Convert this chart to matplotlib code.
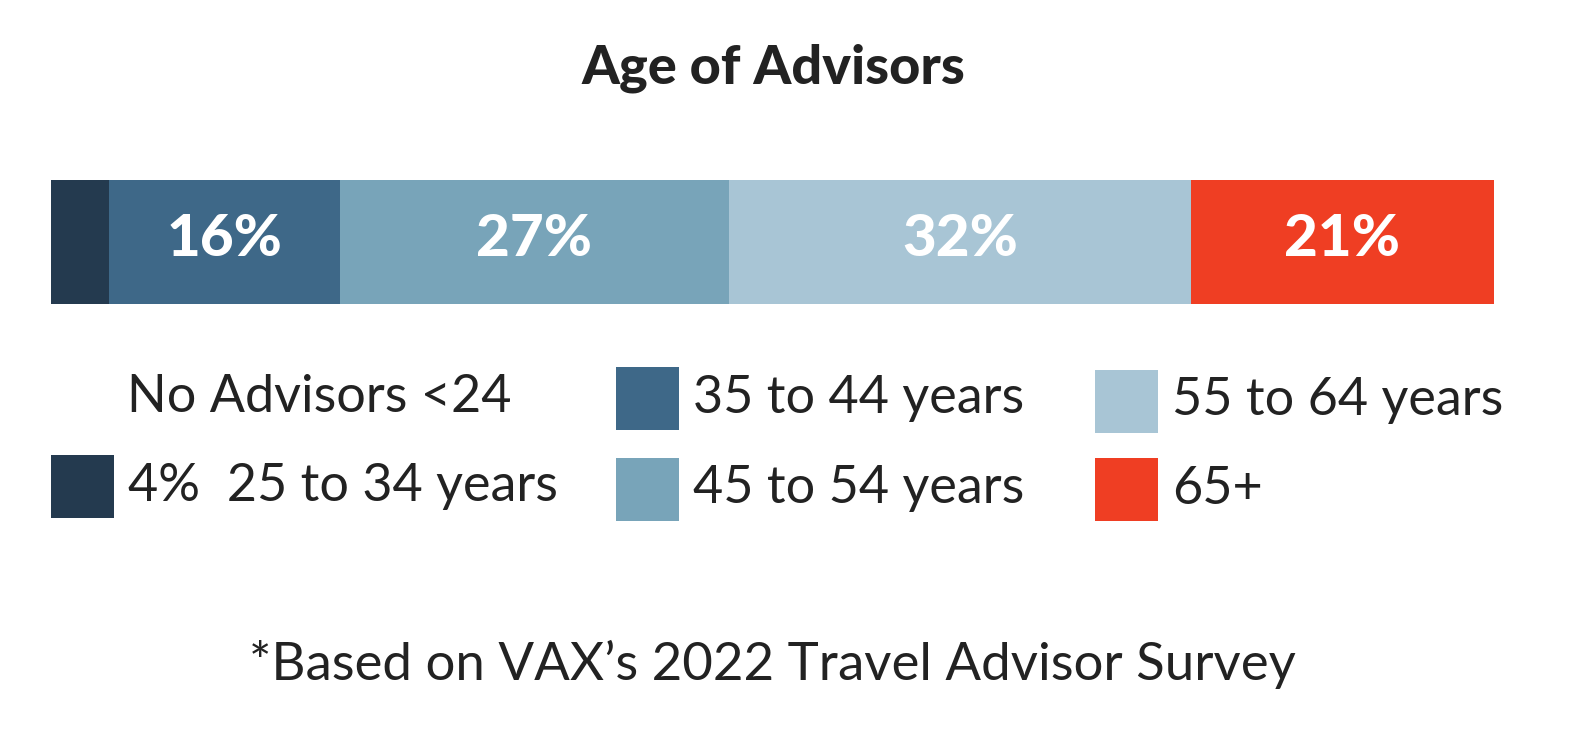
import numpy as np
import matplotlib
matplotlib.use("Agg")
from matplotlib import pyplot as plt
from matplotlib.patches import Rectangle

plt.rcParams['font.family'] = ['Lato', 'DejaVu Sans']

# Dados
faixas = ["25 to 34 years", "35 to 44 years", "45 to 54 years", "55 to 64 years", "65+"]
valores = [4, 16, 27, 32, 21]
cores = ["#243A4F", "#3E6888", "#78A4B9", "#A8C5D5", "#EF3E23"]
titulo = "Age of Advisors"
nota = "*Based on VAX\u2019s 2022 Travel Advisor Survey"

W, H = 1570, 744
fig = plt.figure(figsize=(W / 100, H / 100), dpi=100)

# Barra empilhada (posição em pixels -> fração da figura)
x0, x1, y0, y1 = 51, 1494, 180, 304
ax = fig.add_axes([x0 / W, 1 - y1 / H, (x1 - x0) / W, (y1 - y0) / H])
esquerda = np.concatenate([[0], np.cumsum(valores)[:-1]])
ax.barh(0, valores, left=esquerda, color=cores, height=1.0, edgecolor="none")
for v, l in zip(valores, esquerda):
    if v > 5:
        ax.text(l + v / 2, 0.02, f"{v}%", ha="center", va="center",
                color="white", fontsize=42, fontweight=900)
ax.set_xlim(0, sum(valores))
ax.set_ylim(-0.5, 0.5)
ax.axis("off")

# Camada de texto / legenda em pixels
ov = fig.add_axes([0, 0, 1, 1])
ov.set_xlim(0, W)
ov.set_ylim(H, 0)
ov.axis("off")

ov.text(773, 68, titulo, ha="center", va="center", fontsize=39,
        fontweight=900, color="#222222")

# Legenda manual
ov.text(127, 397, "No Advisors <24", ha="left", va="center", fontsize=37.5, color="#222222")
pos = [(51, 455), (616, 367), (616, 458), (1095, 370), (1095, 458)]
rot = ["4%  " + faixas[0]] + faixas[1:]
for (px, py), c, t in zip(pos, cores, rot):
    ov.add_patch(Rectangle((px, py), 63, 63, color=c, lw=0))
    ov.text(px + 77, py + 31, t, ha="left", va="center", fontsize=37.5, color="#222222")

ov.text(772, 664, nota, ha="center", va="center", fontsize=38, color="#222222")

plt.savefig("out.png", dpi=100)
